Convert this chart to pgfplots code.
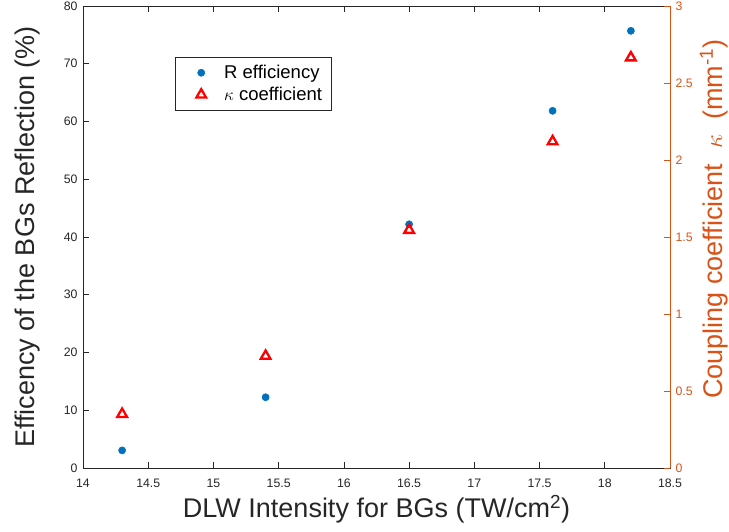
\documentclass[border=0pt]{standalone}
\usepackage{pgfplots}
\pgfplotsset{compat=1.18}
\usepackage{fontspec}
\setmainfont{Liberation Sans}
\definecolor{mblue}{RGB}{0,114,189}
\definecolor{morange}{RGB}{217,83,25}
\definecolor{axgray}{RGB}{38,38,38}
\begin{document}
\begin{tikzpicture}
\begin{axis}[
  scale only axis, width=587pt, height=462pt,
  xmin=14, xmax=18.5, ymin=0, ymax=80,
  xtick={14,14.5,...,18.5}, ytick={0,10,...,80},
  xtick pos=both, ytick pos=left,
  tick align=inside, major tick length=6pt,
  axis line style={draw=axgray, line width=0.6pt},
  tick style={draw=axgray, line width=0.6pt},
  tick label style={font=\fontsize{12.3}{14}\selectfont, text=axgray},
  xticklabel style={anchor=base, yshift=-19pt},
  yticklabel style={anchor=east, xshift=-2pt},
  /pgf/number format/assume math mode=true,
  xlabel={DLW Intensity for BGs (TW/cm\textsuperscript{2})},
  ylabel={Efficency of the BGs Reflection (\%)},
  label style={font=\fontsize{27}{30}\selectfont, text=axgray},
  xlabel style={at={(axis description cs:0.5,-0.1082)}, anchor=base},
  ylabel style={at={(axis description cs:-0.0818,0.5)}, anchor=base, rotate=0},
]
\addplot[only marks, mark=*, mark size=3.6pt, mark options={draw=mblue, fill=mblue, line width=0.5pt}]
  coordinates {(14.3,3.05) (15.4,12.25) (16.5,42.2) (17.6,61.85) (18.2,75.7)};
\end{axis}
\begin{axis}[
  scale only axis, width=587pt, height=462pt,
  xmin=14, xmax=18.5, ymin=0, ymax=3,
  hide x axis, axis y line*=right,
  ytick={0,0.5,...,3},
  tick align=inside, major tick length=6pt,
  axis line style={draw=morange, line width=0.6pt},
  tick style={draw=morange, line width=0.6pt},
  tick label style={font=\fontsize{12.3}{14}\selectfont, text=morange},
  yticklabel style={anchor=west, xshift=2pt, /pgf/number format/.cd, fixed, precision=1},
  /pgf/number format/assume math mode=true,
  ylabel={Coupling coefficient \ $\kappa$ \ (mm\textsuperscript{-1})},
  ylabel style={font=\fontsize{27}{30}\selectfont, text=morange, at={(axis description cs:1.0886,0.539)}, anchor=base, rotate=0},
  legend style={at={(axis description cs:0.1567,0.8896)}, anchor=north west, draw=axgray, line width=0.5pt, font=\fontsize{18.5}{22}\selectfont, fill=white, row sep=0pt, column sep=0pt, inner xsep=0pt, inner ysep=4.5pt, nodes={inner sep=0pt}},
  legend cell align=left,
  legend image code/.code={\path[draw=none, fill=none] (0pt,-11pt) rectangle (49pt,11pt); \draw[#1] plot coordinates {(26pt,0pt)};},
]
\addlegendimage{only marks, mark=*, mark size=3.6pt, mark options={draw=mblue, fill=mblue, line width=0.5pt}}
\addlegendentry{R efficiency}
\addplot[only marks, mark=triangle, mark size=5.6pt, mark options={draw=red, fill=white, line width=2.3pt}]
  coordinates {(14.3,0.35) (15.4,0.727) (16.5,1.545) (17.6,2.12) (18.2,2.665)};
\addlegendentry{$\kappa$ coefficient\hspace*{9pt}}
\end{axis}
\pgfresetboundingbox
\path[use as bounding box] (-83pt,-63pt) rectangle (646pt,468pt);
\end{tikzpicture}
\end{document}
